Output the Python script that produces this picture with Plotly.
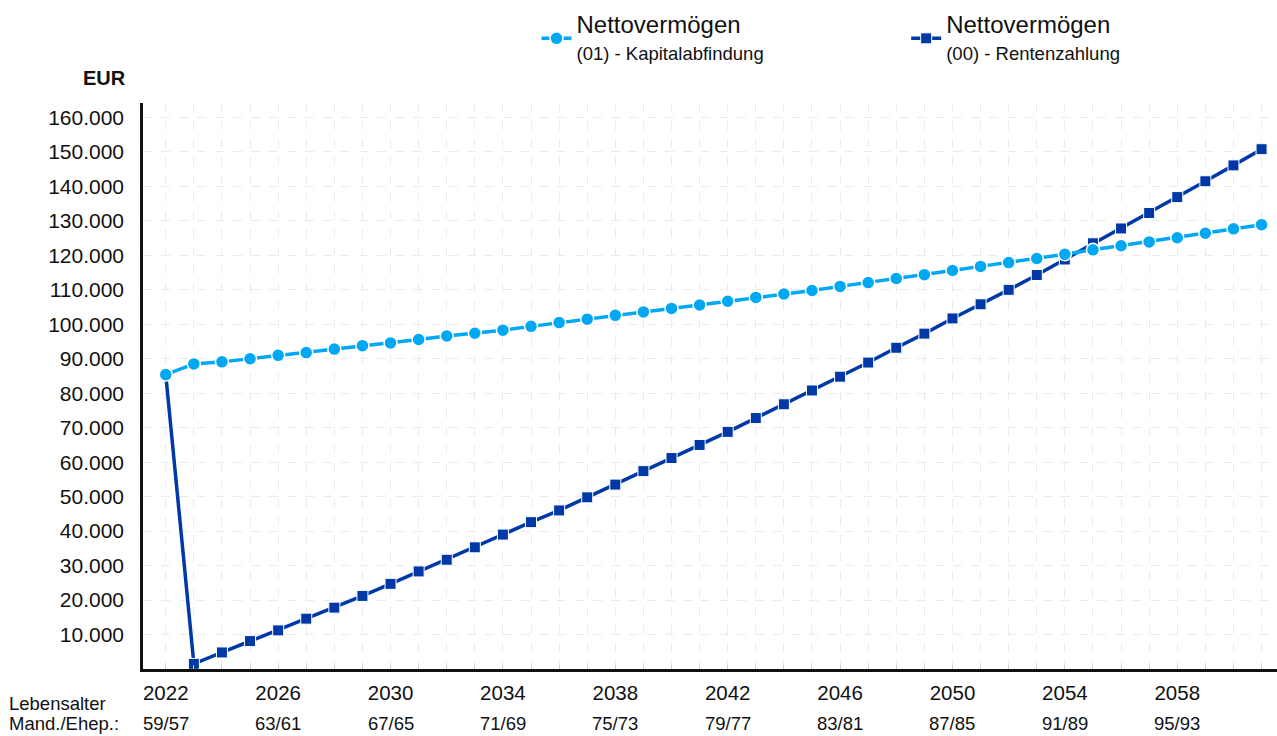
import plotly.graph_objects as go

years = list(range(2022, 2062))

kapital = [85.4, 88.5, 89.1, 90.0, 91.0, 91.8, 92.8, 93.8, 94.6, 95.6,
           96.6, 97.4, 98.3, 99.4, 100.5, 101.5, 102.6, 103.6, 104.6, 105.6,
           106.7, 107.8, 108.8, 109.8, 111.0, 112.1, 113.3, 114.4, 115.6, 116.8,
           117.9, 119.1, 120.3, 121.6, 122.8, 123.9, 125.1, 126.4, 127.7, 128.9]
kapital = [v * 1000 for v in kapital]

rente = [85.4, 1.5, 4.8, 8.1, 11.2, 14.6, 17.8, 21.2, 24.7, 28.3,
         31.7, 35.3, 39.0, 42.6, 46.0, 49.8, 53.5, 57.4, 61.2, 65.0,
         68.8, 72.8, 76.8, 80.8, 84.8, 88.9, 93.2, 97.3, 101.7, 105.8,
         110.0, 114.3, 118.8, 123.5, 127.8, 132.3, 136.9, 141.5, 146.1, 150.8]
rente = [v * 1000 for v in rente]

tick_years = [2022, 2026, 2030, 2034, 2038, 2042, 2046, 2050, 2054, 2058]
ages = ["59/57", "63/61", "67/65", "71/69", "75/73", "79/77", "83/81", "87/85", "91/89", "95/93"]
y_ticks = list(range(10000, 160001, 10000))
y_tick_text = [f"{v:,}".replace(",", ".") for v in y_ticks]

LIGHT = "#00A8F4"
DARK = "#0038A8"
FONT = "Arial, Liberation Sans, sans-serif"

fig = go.Figure()
fig.add_trace(go.Scatter(
    x=years, y=rente, mode="lines+markers", legend="legend2",
    name="<span style='font-size:24px'>Nettovermögen</span><br><span style='font-size:18.5px'>(00) - Rentenzahlung</span>",
    line=dict(color=DARK, width=3.5),
    marker=dict(symbol="square", size=11, color=DARK, line=dict(color="white", width=1)),
))
fig.add_trace(go.Scatter(
    x=years, y=kapital, mode="lines+markers", legend="legend",
    name="<span style='font-size:24px'>Nettovermögen</span><br><span style='font-size:18.5px'>(01) - Kapitalabfindung</span>",
    line=dict(color=LIGHT, width=3.5),
    marker=dict(symbol="circle", size=13, color=LIGHT, line=dict(color="white", width=1.5)),
))

grid = "#ebebeb"
leg_common = dict(yanchor="top", y=1.174, xanchor="left",
                  font=dict(size=21), bgcolor="rgba(0,0,0,0)", itemwidth=30)
fig.update_layout(
    width=1277, height=736,
    margin=dict(l=143, r=0, t=103, b=67),
    paper_bgcolor="white", plot_bgcolor="white",
    font=dict(family=FONT, color="#111111", size=21),
    showlegend=True,
    legend=dict(x=0.347, **leg_common),
    legend2=dict(x=0.673, **leg_common),
    xaxis=dict(range=[2021.19, 2061.55], tickvals=tick_years,
               ticktext=[str(y) for y in tick_years],
               showgrid=True, gridcolor=grid, griddash="dash", gridwidth=1,
               showline=True, linecolor="#111111", linewidth=2.5,
               ticks="inside", ticklen=4, tickcolor="#cccccc",
               tickfont=dict(size=20.5), ticklabelstandoff=4,
               minor=dict(dtick=1, tick0=2022, showgrid=True, gridcolor=grid, griddash="dash",
                          ticks="inside", ticklen=4, tickcolor="#cccccc"),
               zeroline=False, fixedrange=True),
    yaxis=dict(range=[0, 164200], tickvals=y_ticks, ticktext=y_tick_text,
               showgrid=True, gridcolor=grid, griddash="dash", gridwidth=1,
               showline=True, linecolor="#111111", linewidth=2.5,
               ticks="", tickfont=dict(size=21), ticklabelstandoff=12,
               zeroline=False, fixedrange=True),
)

annotations = [
    dict(text="<b>EUR</b>", xref="paper", yref="paper", x=0, y=1.044,
         xanchor="right", yanchor="middle", xshift=-15, showarrow=False,
         font=dict(size=20)),
    dict(text="Lebensalter", xref="paper", yref="paper", x=0, y=-0.0609,
         xanchor="left", yanchor="middle", xshift=-136, showarrow=False,
         font=dict(size=18.5)),
    dict(text="Mand./Ehep.:", xref="paper", yref="paper", x=0, y=-0.0962,
         xanchor="left", yanchor="middle", xshift=-136, showarrow=False,
         font=dict(size=18.5)),
]
for yr, a in zip(tick_years, ages):
    annotations.append(dict(text=a, xref="x", yref="paper", x=yr, y=-0.0962,
                            xanchor="center", yanchor="middle", showarrow=False,
                            font=dict(size=18.5)))
fig.update_layout(annotations=annotations)

fig.write_html("out.html", config={"displayModeBar": False},
               post_script="document.body.style.margin='0';")
